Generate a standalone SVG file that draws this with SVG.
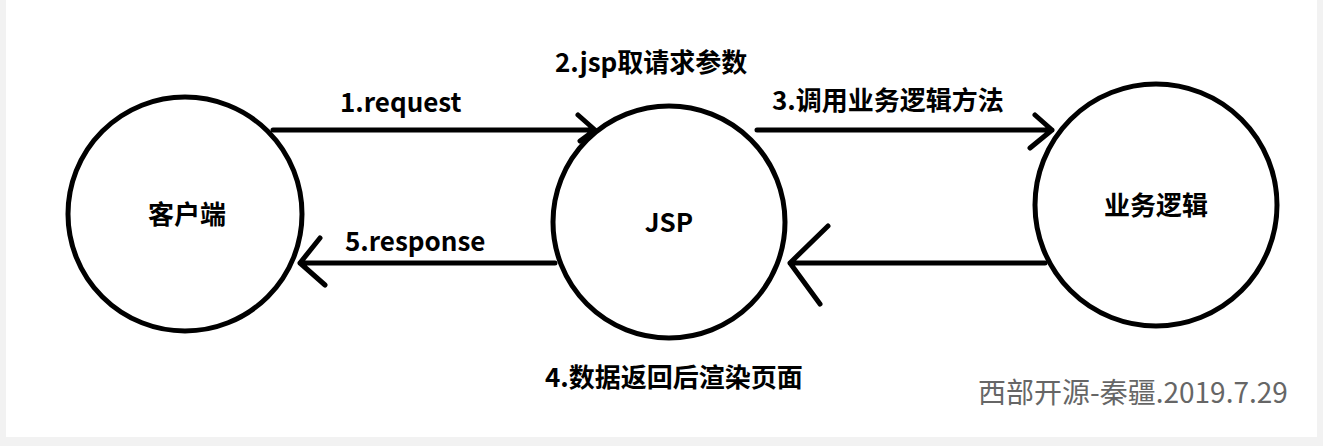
<svg xmlns="http://www.w3.org/2000/svg" width="1323" height="446" viewBox="0 0 1323 446">
<style>
.n{fill:none;stroke:#000;stroke-width:5}
.c{stroke:#000;stroke-width:5;fill:none;stroke-linecap:round;stroke-linejoin:round}
text{font-family:"Noto Sans CJK SC","Liberation Sans",sans-serif;font-weight:bold;font-size:26px;fill:#000}
.w{font-weight:normal;fill:#666;font-size:28px}
</style>
<rect width="1323" height="446" fill="#f2f2f2"/>
<rect x="6" y="0" width="1311" height="437" fill="#fff"/>
<g id="client"><circle class="n" cx="185" cy="214" r="117"/><text x="187" y="224" text-anchor="middle">客户端</text></g>
<g id="jsp"><circle class="n" cx="669" cy="222" r="116"/><text x="669" y="232" text-anchor="middle">JSP</text></g>
<g id="biz"><circle class="n" cx="1156" cy="205" r="121"/><text x="1156" y="215" text-anchor="middle">业务逻辑</text></g>
<g id="connectors">
<path class="c" d="M273 130H595M578 115L595 130L580 141"/>
<path class="c" d="M757 130H1052M1035 115L1052 130L1030 148"/>
<path class="c" d="M555 263H300M320 238L300 263L325 285"/>
<path class="c" d="M1045 263H790M828 226L790 263L820 304"/>
</g>
<text x="340" y="112">1.request</text>
<text x="555" y="72">2.jsp取请求参数</text>
<text x="772" y="110">3.调用业务逻辑方法</text>
<text x="345" y="251">5.response</text>
<text x="545" y="387">4.数据返回后渲染页面</text>
<text class="w" x="978" y="403">西部开源-秦疆.2019.7.29</text>
</svg>
